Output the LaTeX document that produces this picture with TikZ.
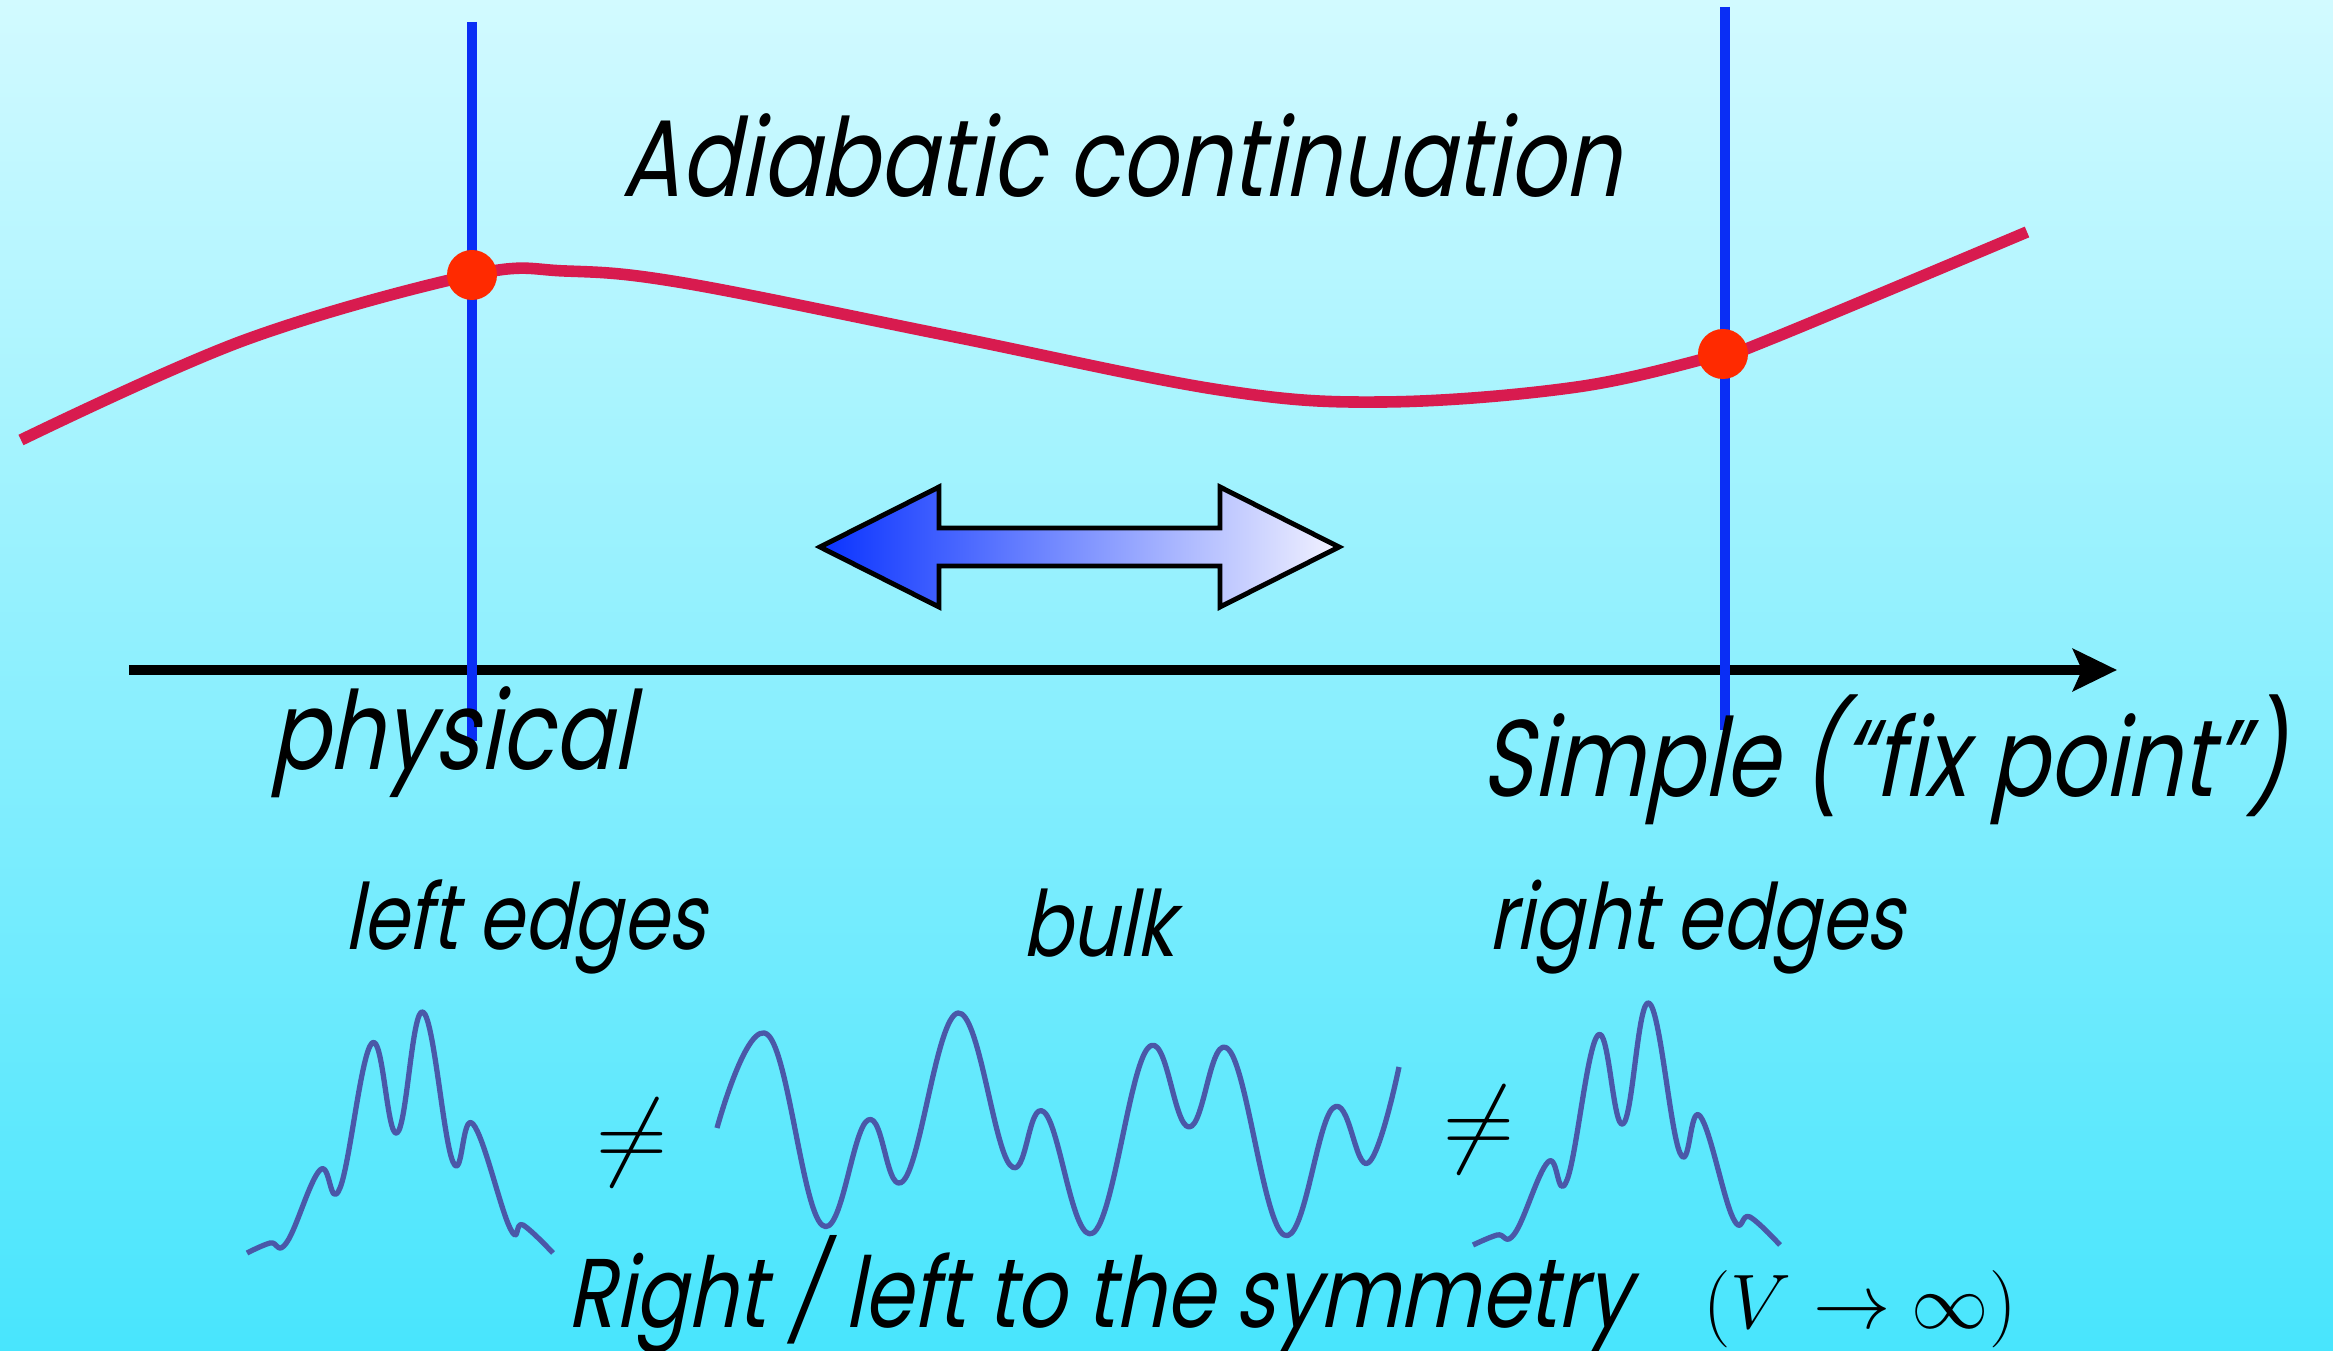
\RequirePackage{fix-cm}
\documentclass[tikz,border=0pt]{standalone}
\usepackage{fontspec}
\usepackage{tikz}
\usetikzlibrary{positioning,arrows.meta}
\newfontfamily\futfont[FakeSlant=0.2,FakeStretch=0.8]{Poppins}
\definecolor{skytop}{HTML}{D2FAFF}
\definecolor{skybot}{HTML}{48E5FD}
\definecolor{curvered}{HTML}{D81B4F}
\definecolor{dotred}{HTML}{FF2A00}
\definecolor{cutblue}{HTML}{0A2EF5}
\definecolor{wavecol}{HTML}{4A58A8}
\definecolor{arrblue}{HTML}{0A33FF}
\definecolor{arrpale}{HTML}{F2F2FF}

\begin{document}
\begin{tikzpicture}[x=0.1mm,y=-0.1mm,
  bigtxt/.style={font=\futfont\fontsize{31}{36}\selectfont,anchor=base,inner sep=0pt},
  smalltxt/.style={font=\futfont\fontsize{26}{30}\selectfont,anchor=base,inner sep=0pt},
  cutline/.style={cutblue,line width=3pt},
  dot/.style={circle,fill=dotred,minimum size=5mm,inner sep=0pt},
  wave/.style={wavecol,line width=1.5pt,line join=round},
  axisarr/.style={-{Stealth[length=4.4mm,width=4.2mm,inset=0.9mm]},line width=3.1pt}]
\useasboundingbox (0,0) rectangle (2333,1351);
\shade[top color=skytop,bottom color=skybot] (0,0) rectangle (2333,1351);

% parameter axis
\coordinate (axL) at (129,670);
\coordinate (axR) at (2117,670);
\draw[axisarr] (axL) -- (axR);

% the two cuts
\coordinate (physTop) at (472,22);
\coordinate (physBot) at (472,741);
\coordinate (simpTop) at (1725,7);
\coordinate (simpBot) at (1725,730);
\draw[cutline] (physTop) -- (physBot);
\draw[cutline] (simpTop) -- (simpBot);

% path of Hamiltonians
\draw[curvered,line width=3.3pt] plot[smooth,tension=0.6] coordinates {
  (21,440) (245,340) (472,275) (565,271) (684,283) (950,336)
  (1220,390) (1384,402) (1577,387) (1723,354) (1771,339) (2027,232)};
\node[dot] (phys) at (472,275) {};
\node[dot] (simp) at (1723,354) {};

% double arrow
\shade[left color=arrblue,right color=arrpale,draw=black,line width=1.4pt,line join=miter]
  (820,547) -- (939,487) -- (939,528) -- (1220,528) -- (1220,487) -- (1339,547)
  -- (1220,607) -- (1220,566) -- (939,566) -- (939,607) -- cycle;

% labels
\node[bigtxt] (title) at (1121,197) {Adiabatic continuation};
\node[bigtxt] (physlbl) at (452,770) {physical};
\node[bigtxt] (simplbl) at (1884,797) {Simple (“fix point”)};
\node[smalltxt] (leftlbl) at (525,950) {left edges};
\node[smalltxt] (bulklbl) at (1098,957) {bulk};
\node[smalltxt] (rightlbl) at (1696,950) {right edges};
\node[smalltxt,font=\futfont\fontsize{27.8}{32}\selectfont] (symlbl) at (1099,1328) {Right / left to the symmetry};
\node[anchor=base,inner sep=0pt,font=\fontsize{22}{26}\selectfont] (limlbl) at (1860,1329) {$(V\to\infty)$};

% densities
\draw[wave] plot[smooth,tension=0.7] coordinates {
  (247,1253) (270,1243) (287,1242) (320,1170) (340,1188) (372,1043) (397,1133)
  (423,1012) (453,1162) (473,1124) (510,1228) (523,1225) (553,1253)};
\draw[wave] plot[smooth,tension=0.7] coordinates {
  (717,1128) (768,1035) (822,1225) (868,1120) (904,1180) (958,1013) (1010,1165)
  (1044,1112) (1093,1233) (1148,1048) (1189,1127) (1229,1050) (1284,1235)
  (1333,1108) (1368,1163) (1399,1067)};
\draw[wave] plot[smooth,tension=0.7] coordinates {
  (1473,1245) (1497,1235) (1515,1233) (1548,1162) (1567,1180) (1598,1035) (1623,1124)
  (1649,1003) (1680,1153) (1700,1116) (1733,1218) (1750,1217) (1780,1245)};
\node[font=\fontsize{28}{32}\selectfont,inner sep=0pt] (neqA) at (632,1143) {$\neq$};
\node[font=\fontsize{28}{32}\selectfont,inner sep=0pt] (neqB) at (1479,1130) {$\neq$};
\end{tikzpicture}
\end{document}
